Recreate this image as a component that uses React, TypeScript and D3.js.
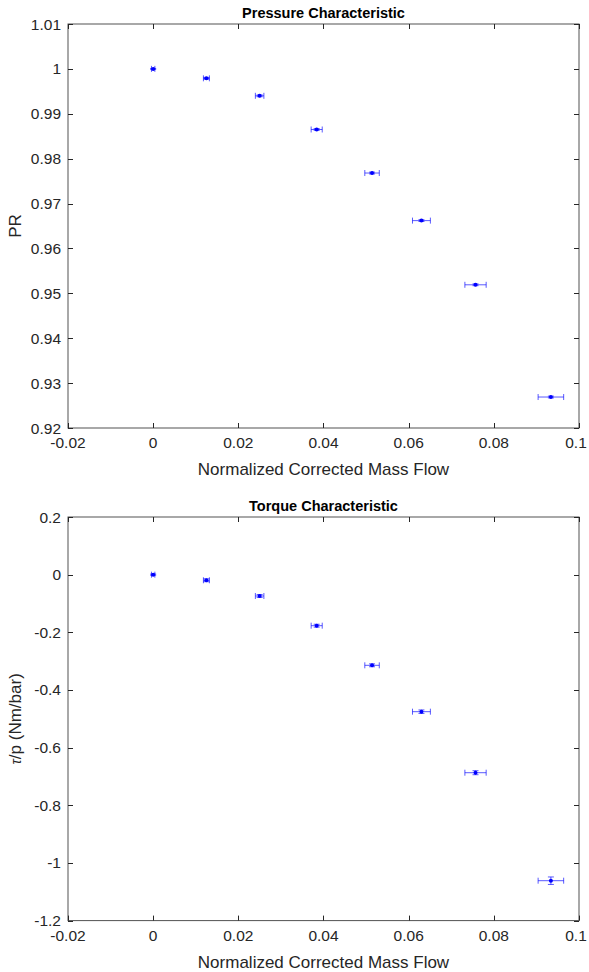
import React, { useEffect, useRef } from 'react';
import * as d3 from 'd3';

// normalized corrected mass flow (same for both subplots)
const massFlow = [0, 0.0125, 0.025, 0.0384, 0.0514, 0.063, 0.0757, 0.0934];
const massFlowErr = [0.0004, 0.0007, 0.001, 0.0013, 0.0017, 0.0021, 0.0025, 0.003];

const pressureRatio = [1.0, 0.9979, 0.994, 0.9865, 0.9768, 0.9662, 0.9519, 0.9269];
const pressureErr = [0.0001, 0.0002, 0.0002, 0.0002, 0.0002, 0.0002, 0.0002, 0.0002];

const torque = [0, -0.0195, -0.074, -0.177, -0.3145, -0.4753, -0.687, -1.0616];
const torqueErr = [0.002, 0.005, 0.005, 0.005, 0.005, 0.006, 0.007, 0.013];

const xTicks = [-0.02, 0, 0.02, 0.04, 0.06, 0.08, 0.1];
const prTicks = [0.92, 0.93, 0.94, 0.95, 0.96, 0.97, 0.98, 0.99, 1, 1.01];
const torqueTicks = [-1.2, -1, -0.8, -0.6, -0.4, -0.2, 0, 0.2];

const AXIS = '#262626';
const FONT = 'Helvetica, Arial, "Liberation Sans", sans-serif';

export default function App() {
  const ref = useRef<SVGSVGElement>(null);

  useEffect(() => {
    const svg = d3.select(ref.current);
    svg.selectAll('*').remove();

    const fmt = (v: number) => String(+v.toFixed(3));

    function subplot(opts: {
      top: number;
      bottom: number;
      yTicks: number[];
      ys: number[];
      yErr: number[];
      title: string;
      yLabel: (t: d3.Selection<SVGTextElement, unknown, null, undefined>) => void;
    }) {
      const left = 68;
      const right = 579;
      const x = d3.scaleLinear().domain([-0.02, 0.1]).range([left, right]);
      const y = d3
        .scaleLinear()
        .domain([opts.yTicks[0], opts.yTicks[opts.yTicks.length - 1]])
        .range([opts.bottom, opts.top]);

      const g = svg.append('g');
      const tl = 5;

      // box
      g.append('rect')
        .attr('x', left)
        .attr('y', opts.top)
        .attr('width', right - left)
        .attr('height', opts.bottom - opts.top)
        .attr('fill', 'white')
        .attr('stroke', AXIS)
        .attr('stroke-opacity', 0.8)
        .attr('stroke-width', 1);

      // x ticks (inward, top and bottom)
      xTicks.forEach((t) => {
        const px = Math.round(x(t)) + 0.5;
        g.append('line').attr('x1', px).attr('x2', px).attr('y1', opts.bottom).attr('y2', opts.bottom - tl).attr('stroke', AXIS);
        g.append('line').attr('x1', px).attr('x2', px).attr('y1', opts.top).attr('y2', opts.top + tl).attr('stroke', AXIS);
        g.append('text')
          .attr('x', Math.min(x(t), 576))
          .attr('y', opts.bottom + 20)
          .attr('text-anchor', 'middle')
          .attr('font-size', 15.5)
          .attr('font-family', FONT)
          .attr('fill', AXIS)
          .text(fmt(t));
      });

      // y ticks
      opts.yTicks.forEach((t) => {
        const py = Math.round(y(t)) + 0.5;
        g.append('line').attr('x1', left).attr('x2', left + tl).attr('y1', py).attr('y2', py).attr('stroke', AXIS);
        g.append('line').attr('x1', right).attr('x2', right - tl).attr('y1', py).attr('y2', py).attr('stroke', AXIS);
        g.append('text')
          .attr('x', left - 7)
          .attr('y', y(t) + 5.5)
          .attr('text-anchor', 'end')
          .attr('font-size', 15.5)
          .attr('font-family', FONT)
          .attr('fill', AXIS)
          .text(fmt(t));
      });

      // title
      g.append('text')
        .attr('x', (left + right) / 2)
        .attr('y', opts.top - 6)
        .attr('text-anchor', 'middle')
        .attr('font-size', 14.5)
        .attr('font-weight', 'bold')
        .attr('font-family', FONT)
        .attr('fill', '#000')
        .text(opts.title);

      // x label
      g.append('text')
        .attr('x', (left + right) / 2)
        .attr('y', opts.bottom + 47)
        .attr('text-anchor', 'middle')
        .attr('font-size', 17)
        .attr('font-family', FONT)
        .attr('fill', AXIS)
        .text('Normalized Corrected Mass Flow');

      // y label
      const yl = g
        .append('text')
        .attr('transform', `translate(21,${(opts.top + opts.bottom) / 2}) rotate(-90)`)
        .attr('text-anchor', 'middle')
        .attr('font-size', 17)
        .attr('font-family', FONT)
        .attr('fill', AXIS);
      opts.yLabel(yl);

      // error bars
      const cap = 3;
      const pts = g.append('g').attr('stroke', '#0000ff');
      massFlow.forEach((mx, i) => {
        const cx = x(mx);
        const cy = y(opts.ys[i]);
        const x0 = x(mx - massFlowErr[i]);
        const x1 = x(mx + massFlowErr[i]);
        const y0 = y(opts.ys[i] - opts.yErr[i]);
        const y1 = y(opts.ys[i] + opts.yErr[i]);
        const eb = pts.append('g').attr('stroke-opacity', 0.65).attr('stroke-width', 1);
        eb.append('line').attr('x1', x0).attr('x2', x1).attr('y1', cy).attr('y2', cy);
        eb.append('line').attr('x1', x0).attr('x2', x0).attr('y1', cy - cap).attr('y2', cy + cap);
        eb.append('line').attr('x1', x1).attr('x2', x1).attr('y1', cy - cap).attr('y2', cy + cap);
        eb.append('line').attr('x1', cx).attr('x2', cx).attr('y1', y0).attr('y2', y1);
        eb.append('line').attr('x1', cx - cap).attr('x2', cx + cap).attr('y1', y0).attr('y2', y0);
        eb.append('line').attr('x1', cx - cap).attr('x2', cx + cap).attr('y1', y1).attr('y2', y1);
        pts.append('circle').attr('cx', cx).attr('cy', cy).attr('r', 2).attr('fill', '#0000ff').attr('stroke', 'none');
      });
    }

    subplot({
      top: 24,
      bottom: 428,
      yTicks: prTicks,
      ys: pressureRatio,
      yErr: pressureErr,
      title: 'Pressure Characteristic',
      yLabel: (t) => t.text('PR'),
    });

    subplot({
      top: 517,
      bottom: 920.6,
      yTicks: torqueTicks,
      ys: torque,
      yErr: torqueErr,
      title: 'Torque Characteristic',
      yLabel: (t) => {
        t.append('tspan').attr('font-size', 14).attr('font-style', 'italic').text('τ');
        t.append('tspan').text('/p (Nm/bar)');
      },
    });
  }, []);

  return (
    <svg
      ref={ref}
      width={589}
      height={972}
      style={{ position: 'absolute', left: 0, top: 0, background: 'white' }}
    />
  );
}
